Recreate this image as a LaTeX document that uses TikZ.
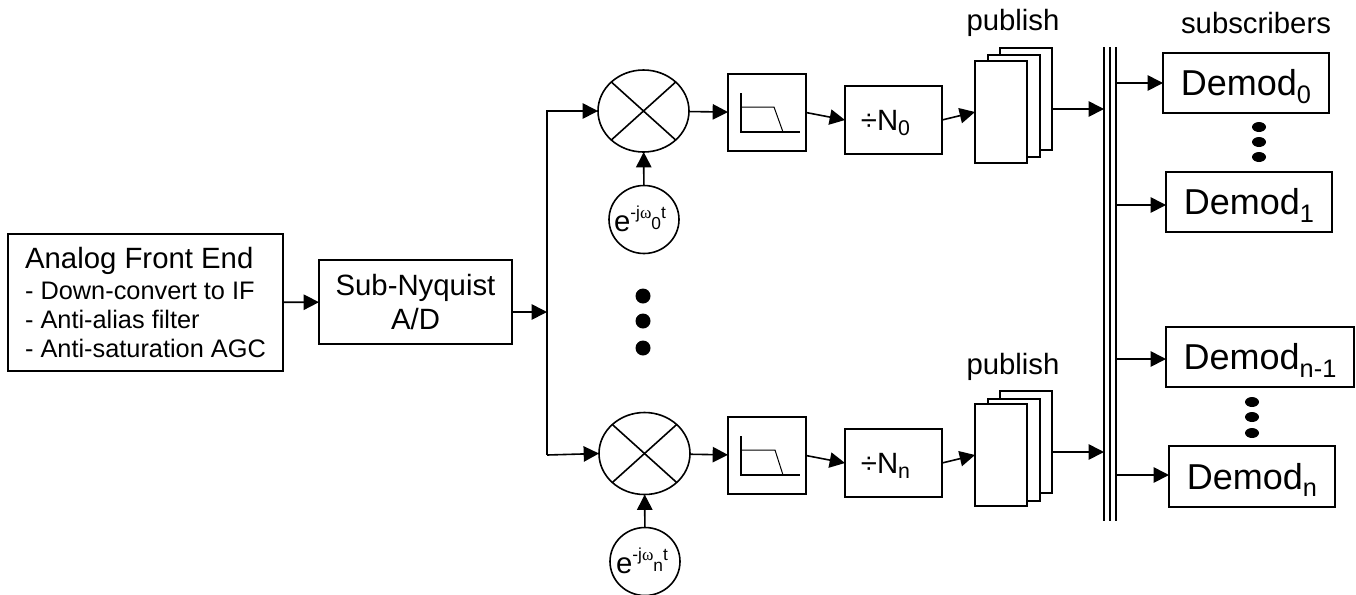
\documentclass[tikz,border=0pt]{standalone}
\usepackage{fontspec}
\setmainfont{Liberation Sans}
\newfontfamily\omegafont{Liberation Serif}
\usetikzlibrary{arrows.meta,shapes.geometric}
\newcommand{\lowtext}[1]{\raisebox{-0.18em}[0pt][0pt]{\fontsize{16}{16}\selectfont #1}}
\newcommand{\lowdemod}[1]{\raisebox{-0.2em}[0pt][0pt]{\fontsize{19}{19}\selectfont #1}}
\newcommand{\carrier}[1]{e\raisebox{0.42em}{\fontsize{13}{13}\selectfont -j{\omegafont ω}\raisebox{-0.62em}{#1}t}}
\newcommand{\smalltext}{\fontsize{19}{23}\selectfont}
\begin{document}
\begin{tikzpicture}[x=0.75pt,y=-0.75pt,line width=1.2pt,font=\fontsize{22}{26}\selectfont,
    box/.style={draw,rectangle,fill=white,inner sep=0pt,outer sep=0pt},
    lpfbox/.style={box,minimum width=58.5pt,minimum height=57.75pt},
    divbox/.style={box,minimum width=72.75pt,minimum height=51pt},
    page/.style={box,minimum width=39pt,minimum height=76.5pt},
    demod/.style={box,minimum width=124.5pt,minimum height=45pt,font=\fontsize{27}{30}\selectfont},
    mixer/.style={draw,ellipse,inner sep=0pt,outer sep=0pt,minimum width=68.25pt,minimum height=61.5pt},
    osc/.style={draw,ellipse,inner sep=0pt,outer sep=0pt,minimum width=52.5pt,minimum height=51pt},
    bigdot/.style={circle,fill=black,inner sep=0pt,minimum size=11.25pt},
    smalldot/.style={ellipse,fill=black,inner sep=0pt,minimum width=10.5pt,minimum height=7.5pt},
    flow/.style={-{Triangle[length=11.5pt,width=11.5pt]}}]
  \useasboundingbox (0,0) rectangle (1356,594);

  \node[box,minimum width=206.25pt,minimum height=102.75pt,align=left] (afe) at (145.5,302.5)
    {Analog Front End\\[-3pt]\smalltext - Down-convert to IF\\[-4pt]\smalltext - Anti-alias filter\\[-4pt]\smalltext - Anti-saturation AGC};
  \node[box,minimum width=144.75pt,minimum height=63pt,align=center] (adc) at (415.5,302) {Sub-Nyquist\\[-1pt]A/D};

  \coordinate (split) at (547,312);
  \coordinate (splitn) at (547,455);

  % upper channel
  \node[mixer] (mix0) at (643.5,111) {};
  \node[osc]   (osc0) at (644,219.5) {};
  \node        (osc0t) at (640,219) {\carrier{0}};
  \node[lpfbox] (lpf0) at (767,112.5) {};
  \node[divbox] (div0) at (893.5,120) {÷N\lowtext{0}\hspace{12pt}\null};
  \node[page]  (pub0c) at (1026,99) {};
  \node[page]  (pub0b) at (1014,106) {};
  \node[page]  (pub0a) at (1001,112) {};
  \node        (pub0t) at (1013,23) {publish};

  % lower channel
  \node[mixer] (mixn) at (644.5,453.5) {};
  \node[osc]   (oscn) at (645,561.5) {};
  \node        (oscnt) at (642,561) {\carrier{n}};
  \node[lpfbox] (lpfn) at (767,455.5) {};
  \node[divbox] (divn) at (893.5,463) {÷N\lowtext{n}\hspace{12pt}\null};
  \node[page]  (pubnc) at (1026,442) {};
  \node[page]  (pubnb) at (1014,450) {};
  \node[page]  (pubna) at (1001,455) {};
  \node        (pubnt) at (1013,367) {publish};

  \node[bigdot] (dot1) at (643,296) {};
  \node[bigdot] (dot2) at (643,321) {};
  \node[bigdot] (dot3) at (643,348) {};

  % subscribers
  \node (subs) at (1256,23) {subscribers};
  \node[demod] (demod0) at (1246,83) {Demod\lowdemod{0}};
  \node[demod] (demod1) at (1249,202) {Demod\lowdemod{1}};
  \node[demod,minimum width=141pt] (demodm) at (1260,357) {Demod\lowdemod{n-1}};
  \node[demod,minimum height=45.75pt] (demodn) at (1252,476.5) {Demod\lowdemod{n}};
  \node[smalldot] (sub1) at (1259,127) {};
  \node[smalldot] (sub2) at (1259,142) {};
  \node[smalldot] (sub3) at (1259,157) {};
  \node[smalldot] (sub4) at (1252,402) {};
  \node[smalldot] (sub5) at (1252,417) {};
  \node[smalldot] (sub6) at (1252,433) {};

  % bus lines
  \coordinate (bus1t) at (1104,47);
  \coordinate (bus1b) at (1104,521);
  \coordinate (bus2t) at (1110,47);
  \coordinate (bus2b) at (1110,521);
  \coordinate (bus3t) at (1116,47);
  \coordinate (bus3b) at (1116,521);
  \draw (bus1t) -- (bus1b);
  \draw (bus2t) -- (bus2b);
  \draw (bus3t) -- (bus3b);
  \coordinate (in0) at (1104,109);
  \coordinate (inn) at (1104,452);
  \coordinate (tap0) at (1116,83);
  \coordinate (tap1) at (1116,205);
  \coordinate (tapm) at (1116,359);
  \coordinate (tapn) at (1116,475);

  % crosses in the mixers
  \draw (mix0.north east) -- (mix0.south west);
  \draw (mix0.north west) -- (mix0.south east);
  \draw (mixn.north east) -- (mixn.south west);
  \draw (mixn.north west) -- (mixn.south east);

  % filter curves
  \draw (741,93) -- (741,132) -- (800,132);
  \draw[line width=0.75pt] (741,107) -- (774,107) -- (783,132);
  \draw (741,436) -- (741,475) -- (800,475);
  \draw[line width=0.75pt] (741,450) -- (775,450) -- (783,475);

  \draw[flow] (afe) -- (adc);
  \draw[flow] (adc.east |- split) -- (split);
  \draw[flow] (split) |- (mix0.west);
  \draw (split) -- (splitn);
  \draw[flow] (splitn) -- (mixn.west);

  \draw[flow] (osc0) -- (mix0);
  \draw[flow] (mix0) -- (lpf0);
  \draw[flow] (lpf0.east) -- (div0.west);
  \draw[flow] (div0.east) -- (pub0a.west);
  \draw[flow] (pub0c.east |- in0) -- (in0);

  \draw[flow] (oscn) -- (mixn);
  \draw[flow] (mixn) -- (lpfn);
  \draw[flow] (lpfn.east) -- (divn.west);
  \draw[flow] (divn.east) -- (pubna.west);
  \draw[flow] (pubnc.east |- inn) -- (inn);

  \draw[flow] (tap0) -- (tap0 -| demod0.west);
  \draw[flow] (tap1) -- (tap1 -| demod1.west);
  \draw[flow] (tapm) -- (tapm -| demodm.west);
  \draw[flow] (tapn) -- (tapn -| demodn.west);
\end{tikzpicture}
\end{document}
